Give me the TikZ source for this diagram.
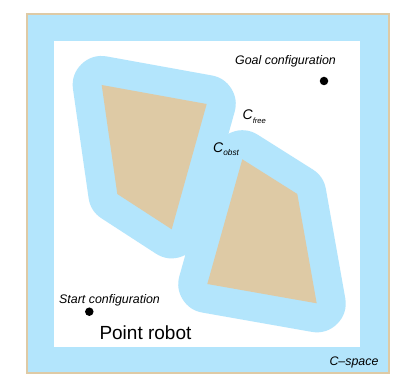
\documentclass[tikz,border=0pt]{standalone}
\usepackage{fontspec}
\setmainfont{Liberation Sans}
\definecolor{cblue}{RGB}{179,229,252}
\definecolor{ctan}{RGB}{222,202,165}
\begin{document}
\begin{tikzpicture}[x=1pt,y=-1pt,
  grownarea/.style={fill=cblue,draw=cblue,line width=58pt,line join=round},
  obstarea/.style={fill=ctan},
  lbl/.style={inner sep=0pt,font=\fontsize{12.4}{12.4}\selectfont\itshape},
  pointdot/.style={circle,fill=black,inner sep=0pt,minimum size=8.5pt}]
\useasboundingbox (0,0) rectangle (394,374);
\fill[white] (0,0) rectangle (394,374);
% C-space frame
\filldraw[fill=cblue,draw=ctan,line width=2pt] (27,14) rectangle (388.5,373);
\fill[white] (54,41) rectangle (360,347);
% obstacle 1
\filldraw[grownarea] (101.7,85) -- (206.7,104) -- (171.7,229.3) -- (117.3,194) -- cycle;
% obstacle 2
\filldraw[grownarea] (242.3,159.3) -- (297.3,194) -- (316.7,303.3) -- (207.3,284) -- cycle;
\fill[obstarea] (101.7,85) -- (206.7,104) -- (171.7,229.3) -- (117.3,194) -- cycle;
\fill[obstarea] (242.3,159.3) -- (297.3,194) -- (316.7,303.3) -- (207.3,284) -- cycle;
% points
\node[pointdot] (goal) at (324,81) {};
\node[pointdot] (start) at (89.3,311.7) {};
% labels
\node[lbl,anchor=base west] (goallbl) at (235,64.5) {Goal configuration};
\node[lbl,anchor=base west] (startlbl) at (59,304) {Start configuration};
\node[inner sep=0pt,anchor=base west,font=\fontsize{19}{19}\selectfont] (robot) at (99.3,339.3) {Point robot};
\node[lbl,anchor=base west] (cspace) at (329.3,365.5) {C–space};
\node[inner sep=0pt,anchor=base west,font=\fontsize{14}{14}\selectfont\itshape] (cfree) at (242.5,120) {C\raisebox{-4pt}{\fontsize{7.6}{7.6}\selectfont free}};
\node[inner sep=0pt,anchor=base west,font=\fontsize{14}{14}\selectfont\itshape] (cobst) at (213,152.7) {C\raisebox{-2.5pt}{\fontsize{8.3}{8.3}\selectfont obst}};
\end{tikzpicture}
\end{document}
